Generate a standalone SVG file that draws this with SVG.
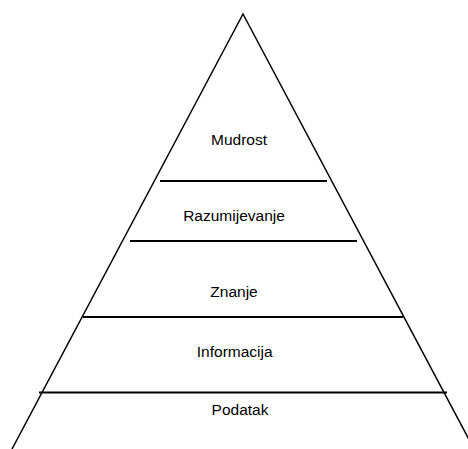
<svg xmlns="http://www.w3.org/2000/svg" width="468" height="449" viewBox="0 0 468 449">
<style>
.edge{stroke:#000;stroke-width:1.5;fill:none}
.sep{stroke:#000;stroke-width:2;fill:none}
text{font-family:"Liberation Sans",Arial,sans-serif;font-size:15.5px;fill:#000;text-anchor:middle}
</style>
<rect width="468" height="449" fill="#fff"/>
<g id="connectors">
<path class="edge" d="M12,449 L243,14 L474,449"/>
<line class="sep" x1="160" y1="181" x2="327" y2="181"/>
<line class="sep" x1="130" y1="241" x2="357" y2="241"/>
<line class="sep" x1="83" y1="317" x2="403" y2="317"/>
<line class="sep" x1="39" y1="392.5" x2="447" y2="392.5"/>
</g>
<g id="mudrost"><text x="239" y="145">Mudrost</text></g>
<g id="razumijevanje"><text x="234" y="220.7">Razumijevanje</text></g>
<g id="znanje"><text x="234" y="296.7">Znanje</text></g>
<g id="informacija"><text x="234.7" y="357.3">Informacija</text></g>
<g id="podatak"><text x="240" y="415.3">Podatak</text></g>
</svg>
